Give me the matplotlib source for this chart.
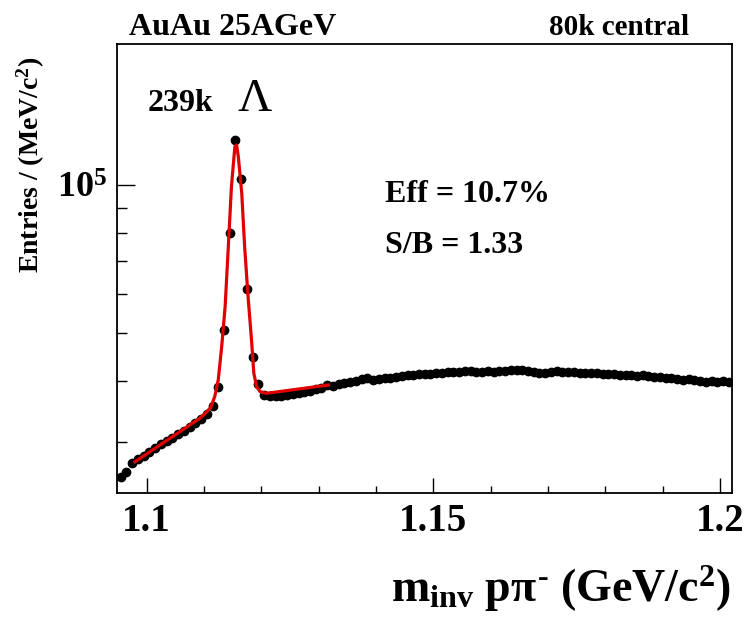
import numpy as np
import matplotlib
matplotlib.use("Agg")
import matplotlib.pyplot as plt
from matplotlib.ticker import LogLocator, NullFormatter, MultipleLocator, FixedLocator

# histogram: 1 MeV bins starting at 1.0955 GeV
first_bin = 1.0955
bin_width = 0.001

counts_left = [25510, 26110, 27160, 27650, 28170, 28630, 29170, 29730, 30150, 30650,
               31160, 31670, 32190, 32810, 33430, 34220]
counts_peak = [35530, 38900, 50760, 79900, 123800, 102900, 61530, 44670, 39370]
counts_right = [37420, 37240, 37330, 37240, 37420, 37600, 37690, 37950, 38130, 38400,
                38670, 39210, 39030, 39400, 39580, 39860, 40040, 40330, 40510, 40130,
                40420, 40610, 40510, 40700, 40990, 41090, 41180, 41280, 41380, 41280,
                41570, 41470, 41670, 41780, 41670, 41880, 41970, 41780, 41670, 41880,
                41670, 41880, 41970, 42070, 42170, 42070, 41880, 41670, 41470, 41570,
                41780, 41880, 41780, 41670, 41780, 41570, 41470, 41570, 41470, 41380,
                41280, 41380, 41180, 41090, 41180, 40990, 41090, 40890, 40800, 40700,
                40610, 40510, 40330, 40230, 40330, 40130, 39950, 39860, 39950, 39860,
                39950, 39860]

# fit curve (signal + background)
fit_x = [1.0980, 1.1093, 1.1105, 1.1112, 1.1119, 1.1125, 1.1131, 1.1137, 1.1142,
         1.1148, 1.1154, 1.1157, 1.1160, 1.1166, 1.1171, 1.1177, 1.1183, 1.1187,
         1.1192, 1.1198, 1.1209, 1.1317]
fit_y = [27360, 33550, 34590, 35300, 37200, 40130, 46950, 56620, 72860, 99450,
         120000, 120900, 114500, 96400, 75060, 59340, 48430, 41430, 38900, 38010,
         37720, 39210]

counts = counts_left + counts_peak + counts_right
centers = first_bin + bin_width * np.arange(len(counts))

plt.rcParams['font.family'] = ['Liberation Serif', 'DejaVu Serif']
plt.rcParams['font.weight'] = 'bold'
plt.rcParams['mathtext.fontset'] = 'custom'
plt.rcParams['mathtext.rm'] = 'Liberation Serif:bold'
plt.rcParams['mathtext.it'] = 'Liberation Serif:bold'
plt.rcParams['mathtext.bf'] = 'Liberation Serif:bold'

fig = plt.figure(figsize=(7.46, 6.17), dpi=100)
ax = fig.add_axes([0.1572, 0.2010, 0.8236, 0.7277])

ax.plot(centers, counts, 'o', color='black', markersize=6, zorder=2)
ax.plot(fit_x, fit_y, '-', color='#e00000', linewidth=2.3, zorder=3)

ax.set_yscale('log')
ax.set_xlim(1.0949, 1.2020)
ax.set_ylim(23630, 194200)

# axes style
for side in ['top', 'right', 'left', 'bottom']:
    ax.spines[side].set_linewidth(1.3)

ax.xaxis.set_major_locator(FixedLocator([1.1, 1.15, 1.2]))
ax.xaxis.set_minor_locator(MultipleLocator(0.01))
ax.set_xticklabels(['1.1', '1.15', '1.2'])
ax.tick_params(axis='x', which='major', direction='in', length=11, width=1.0,
               labelsize=28, pad=7)
ax.tick_params(axis='x', which='minor', direction='in', length=5, width=1.0)

ax.set_yticks([1e5])
ax.set_yticklabels([r'$10^{5}$'])
ax.yaxis.set_minor_locator(LogLocator(base=10, subs=np.arange(2, 10)))
ax.yaxis.set_minor_formatter(NullFormatter())
ax.tick_params(axis='y', which='major', direction='in', length=13, width=1.0,
               labelsize=26, pad=7)
ax.tick_params(axis='y', which='minor', direction='in', length=7, width=1.0)

# labels
fig.text(0.98, 0.025, r'm$_{\rm inv}$ p$\pi^{\text{-}}$ (GeV/c$^{2}$)', ha='right',
         va='baseline', fontsize=33, fontweight='bold')
fig.text(0.042, 0.5575, r'Entries / (MeV/c$^{2}$)', rotation=90, ha='center',
         va='bottom', fontsize=20, fontweight='bold')

fig.text(0.173, 0.9433, 'AuAu 25AGeV', ha='left', va='baseline', fontsize=23,
         fontweight='bold')
fig.text(0.9236, 0.9433, '80k central', ha='right', va='baseline', fontsize=21,
         fontweight='bold')
fig.text(0.198, 0.820, '239k', ha='left', va='baseline', fontsize=23,
         fontweight='bold')
fig.text(0.318, 0.820, 'Λ', ha='left', va='baseline', fontsize=34,
         fontweight='normal')
fig.text(0.516, 0.6726, 'Eff = 10.7%', ha='left', va='baseline', fontsize=23,
         fontweight='bold')
fig.text(0.516, 0.590, 'S/B = 1.33', ha='left', va='baseline', fontsize=23,
         fontweight='bold')

fig.savefig('out.png', dpi=100)
